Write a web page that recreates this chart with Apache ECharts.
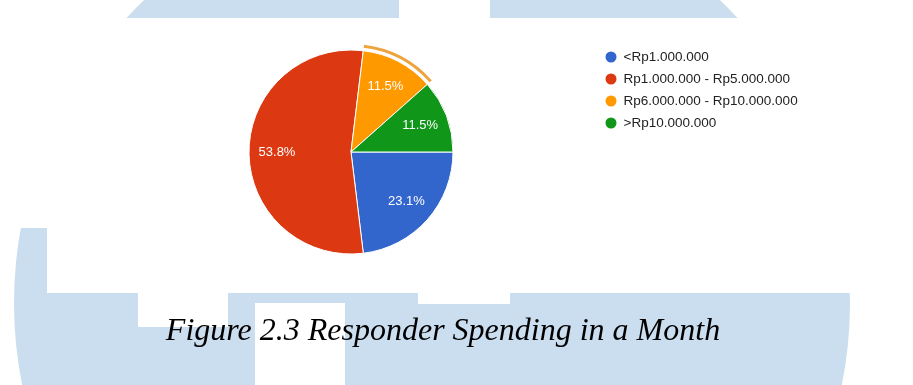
<!DOCTYPE html>
<html>
<head>
<meta charset="utf-8">
<script src="https://cdn.jsdelivr.net/npm/echarts@6/dist/echarts.min.js"></script>
<style>
html,body{margin:0;padding:0;background:#fff;}
#chart{width:913px;height:385px;}
</style>
</head>
<body>
<div id="chart"></div>
<script>
const categories = ['<Rp1.000.000', 'Rp1.000.000 - Rp5.000.000', 'Rp6.000.000 - Rp10.000.000', '>Rp10.000.000'];
const counts = [6, 14, 3, 3];
const colors = ['#3366cc', '#dc3912', '#ff9900', '#109618'];
const highlighted = 2;
const caption = 'Figure 2.3 Responder Spending in a Month';

const bg = '#cbdeef';
const chart = echarts.init(document.getElementById('chart'));
const data = categories.map((n, i) => ({ name: n, value: counts[i], itemStyle: { color: colors[i] } }));
const center = [351, 152];

chart.setOption({
  animation: false,
  color: colors,
  graphic: [
    { type: 'circle', z: -10, silent: true, shape: { cx: 432, cy: 303, r: 418 }, style: { fill: bg } },
    { type: 'rect', z: -9, silent: true, shape: { x: 399, y: 0, width: 91, height: 18 }, style: { fill: '#fff' } },
    { type: 'rect', z: -9, silent: true, shape: { x: 0, y: 18, width: 47, height: 210 }, style: { fill: '#fff' } },
    { type: 'rect', z: -9, silent: true, shape: { x: 47, y: 18, width: 803, height: 275 }, style: { fill: '#fff' } },
    { type: 'rect', z: -9, silent: true, shape: { x: 138, y: 292, width: 90, height: 35 }, style: { fill: '#fff' } },
    { type: 'rect', z: -9, silent: true, shape: { x: 255, y: 303, width: 90, height: 82 }, style: { fill: '#fff' } },
    { type: 'rect', z: -9, silent: true, shape: { x: 418, y: 292, width: 92, height: 12 }, style: { fill: '#fff' } },
    { type: 'text', z: 10, silent: true, x: 443, y: 316,
      style: { text: caption, font: 'italic 32px "Liberation Serif", "Times New Roman", serif', fill: '#000', align: 'center', verticalAlign: 'top' } }
  ],
  legend: {
    orient: 'vertical',
    left: 603.5,
    top: 49.5,
    padding: 0,
    icon: 'circle',
    itemWidth: 13,
    itemHeight: 13,
    itemGap: 7,
    data: categories,
    textStyle: { fontFamily: 'Liberation Sans, Arial, sans-serif', fontSize: 13.5, color: '#222', padding: [0, 0, 0, 1] }
  },
  series: [
    {
      type: 'pie',
      center: center,
      radius: [0, 102],
      startAngle: 0,
      clockwise: true,
      data: data,
      label: { show: false },
      labelLine: { show: false },
      itemStyle: { borderColor: '#fff', borderWidth: 1 },
      emphasis: { disabled: true }
    },
    {
      type: 'pie',
      center: center,
      radius: [105, 108],
      startAngle: 0,
      clockwise: true,
      silent: true,
      data: data.map((d, i) => ({ name: d.name, value: d.value, itemStyle: { color: i === highlighted ? '#eea43c' : 'rgba(0,0,0,0)' } })),
      label: { show: false },
      labelLine: { show: false },
      emphasis: { disabled: true }
    },
    {
      type: 'pie',
      center: center,
      radius: [40, 102],
      startAngle: 0,
      clockwise: true,
      silent: true,
      data: data.map(d => ({ name: d.name, value: d.value, itemStyle: { color: 'rgba(0,0,0,0)' } })),
      label: {
        show: true,
        position: 'inside',
        color: '#fff',
        fontFamily: 'Liberation Sans, Arial, sans-serif',
        fontSize: 13,
        formatter: p => p.percent.toFixed(1) + '%'
      },
      percentPrecision: 4,
      labelLine: { show: false },
      emphasis: { disabled: true }
    }
  ]
});
</script>
</body>
</html>
